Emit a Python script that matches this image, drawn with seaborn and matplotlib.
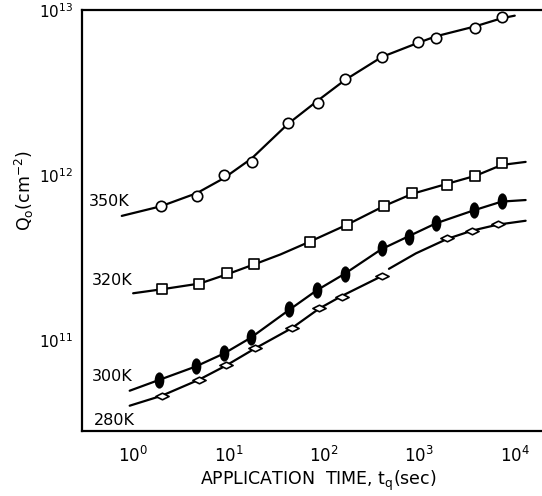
import numpy as np
import pandas as pd
import matplotlib
matplotlib.use('Agg')
import matplotlib.pyplot as plt
import seaborn as sns
from matplotlib.path import Path

# measured points (t_q in sec, Q_o in cm^-2)
x_350 = [1.95, 4.65, 8.9, 17.5, 42, 86, 166, 405, 964, 1490, 3820, 7330]
y_350 = [6.49e11, 7.46e11, 1.0e12, 1.2e12, 2.07e12, 2.73e12, 3.82e12, 5.19e12, 6.40e12, 6.77e12, 7.78e12, 9.07e12]

x_320 = [1.99, 4.89, 9.6, 18.5, 71, 176, 431, 845, 1930, 3870, 7330]
y_320 = [2.04e11, 2.18e11, 2.55e11, 2.89e11, 3.93e11, 4.98e11, 6.49e11, 7.78e11, 8.69e11, 9.87e11, 1.18e12]

x_300 = [1.86, 4.54, 8.94, 17.1, 42.9, 83.9, 165, 402, 772, 1510, 3710, 7330]
y_300 = [5.73e10, 6.96e10, 8.33e10, 1.04e11, 1.54e11, 2.01e11, 2.51e11, 3.61e11, 4.21e11, 5.12e11, 6.14e11, 6.96e11]

x_280 = [1.99, 4.89, 9.36, 18.9, 46.3, 88.7, 154, 410, 1960, 3570, 6600]
y_280 = [4.58e10, 5.73e10, 7.05e10, 8.95e10, 1.18e11, 1.56e11, 1.82e11, 2.44e11, 4.15e11, 4.58e11, 5.05e11]

# fitted curves
fit_x_350 = [0.76, 1.95, 4.65, 8.9, 17.5, 42, 86, 166, 405, 964, 1490, 3820, 7330, 1.0e4]
fit_y_350 = [5.65e11, 6.46e11, 7.76e11, 9.55e11, 1.26e12, 2.04e12, 2.82e12, 3.76e12, 5.19e12, 6.31e12, 6.92e12, 7.94e12, 8.91e12, 9.23e12]

fit_x_320 = [1.0, 2, 5, 10, 20, 35, 70, 175, 430, 850, 1900, 3900, 7300, 1.3e4]
fit_y_320 = [1.92e11, 2.03e11, 2.2e11, 2.52e11, 2.92e11, 3.3e11, 3.93e11, 5.0e11, 6.5e11, 7.7e11, 8.8e11, 9.9e11, 1.15e12, 1.2e12]

fit_x_300 = [0.92, 1.9, 4.5, 9, 17, 43, 84, 165, 400, 770, 1500, 3700, 7300, 1.3e4]
fit_y_300 = [4.93e10, 5.75e10, 6.9e10, 8.3e10, 1.03e11, 1.52e11, 2.0e11, 2.52e11, 3.55e11, 4.25e11, 5.1e11, 6.1e11, 6.9e11, 7.05e11]

# the 280K curve has a small break just after the 410 s point
fit_x_280a = [0.92, 2, 4.9, 9.4, 19, 46, 89, 154, 410]
fit_y_280a = [4.0e10, 4.6e10, 5.75e10, 7.0e10, 8.9e10, 1.18e11, 1.55e11, 1.85e11, 2.45e11]
fit_x_280b = [480, 920, 1960, 3570, 6600, 1.3e4]
fit_y_280b = [2.7e11, 3.35e11, 4.1e11, 4.6e11, 5.0e11, 5.28e11]

labels = ['350K', '320K', '300K', '280K']
label_x = [0.556, 0.6, 0.6, 0.64]
label_y = [6.95e11, 2.31e11, 6.05e10, 3.27e10]

sns.set_style('white')
plt.rcParams['font.family'] = ['DejaVu Sans']
plt.rcParams['mathtext.default'] = 'regular'
plt.rcParams['text.color'] = 'black'
plt.rcParams['axes.labelcolor'] = 'black'

fig = plt.figure(figsize=(5.42, 4.96), dpi=100)
ax = fig.add_axes([0.151, 0.131, 0.847, 0.849])

# custom markers: tall filled ellipse, flat open diamond
circ = Path.unit_circle()
ellipse = Path(circ.vertices * np.array([0.55, 1.0]), circ.codes)
diamond = Path([(-1, 0), (0, 0.5), (1, 0), (0, -0.5), (-1, 0)],
               [Path.MOVETO, Path.LINETO, Path.LINETO, Path.LINETO, Path.CLOSEPOLY])

fits = [(fit_x_350, fit_y_350), (fit_x_320, fit_y_320), (fit_x_300, fit_y_300),
        (fit_x_280a, fit_y_280a), (fit_x_280b, fit_y_280b)]
for fx, fy in fits:
    sns.lineplot(x=fx, y=fy, ax=ax, color='black', lw=1.6, estimator=None, sort=True, zorder=2)

pts = [
    (x_350, y_350, 'o', 56, 'white'),
    (x_320, y_320, 's', 56, 'white'),
    (x_300, y_300, ellipse, 110, 'black'),
    (x_280, y_280, diamond, 90, 'white'),
]
for px, py, mk, sz, fc in pts:
    df = pd.DataFrame({'t': px, 'q': py})
    sns.scatterplot(data=df, x='t', y='q', ax=ax, marker=mk, s=sz, color=fc,
                    edgecolor='black', linewidth=1.2, zorder=3)

ax.set_xscale('log')
ax.set_yscale('log')
ax.set_xlim(0.29, 1.88e4)
ax.set_ylim(2.81e10, 1.0e13)

ax.set_xticks([1, 10, 100, 1000, 10000])
ax.set_xticklabels([r'$10^{0}$', r'$10^{1}$', r'$10^{2}$', r'$10^{3}$', r'$10^{4}$'])
ax.set_yticks([1e11, 1e12, 1e13])
ax.set_yticklabels([r'$10^{11}$', r'$10^{12}$', r'$10^{13}$'])
ax.minorticks_off()
ax.tick_params(axis='both', which='major', direction='inout', length=7, width=1.4,
               labelsize=12, colors='black')
ax.tick_params(axis='x', pad=7)
ax.tick_params(axis='y', labelsize=11, pad=3)

for side in ['left', 'bottom', 'top']:
    ax.spines[side].set_visible(True)
    ax.spines[side].set_linewidth(1.6)
    ax.spines[side].set_color('black')
ax.spines['right'].set_visible(False)

ax.set_xlabel('APPLICATION  TIME, $t_q$(sec)', fontsize=12.5)
ax.xaxis.set_label_coords(0.515, -0.09)
ax.set_ylabel('Q$_o$(cm$^{-2}$)', fontsize=12.5)
ax.yaxis.set_label_coords(-0.1, 0.57)

for lab, lx, ly in zip(labels, label_x, label_y):
    ax.text(lx, ly, lab, fontsize=11.5, ha='center', va='center', color='black')

fig.savefig('out.png', dpi=100)
